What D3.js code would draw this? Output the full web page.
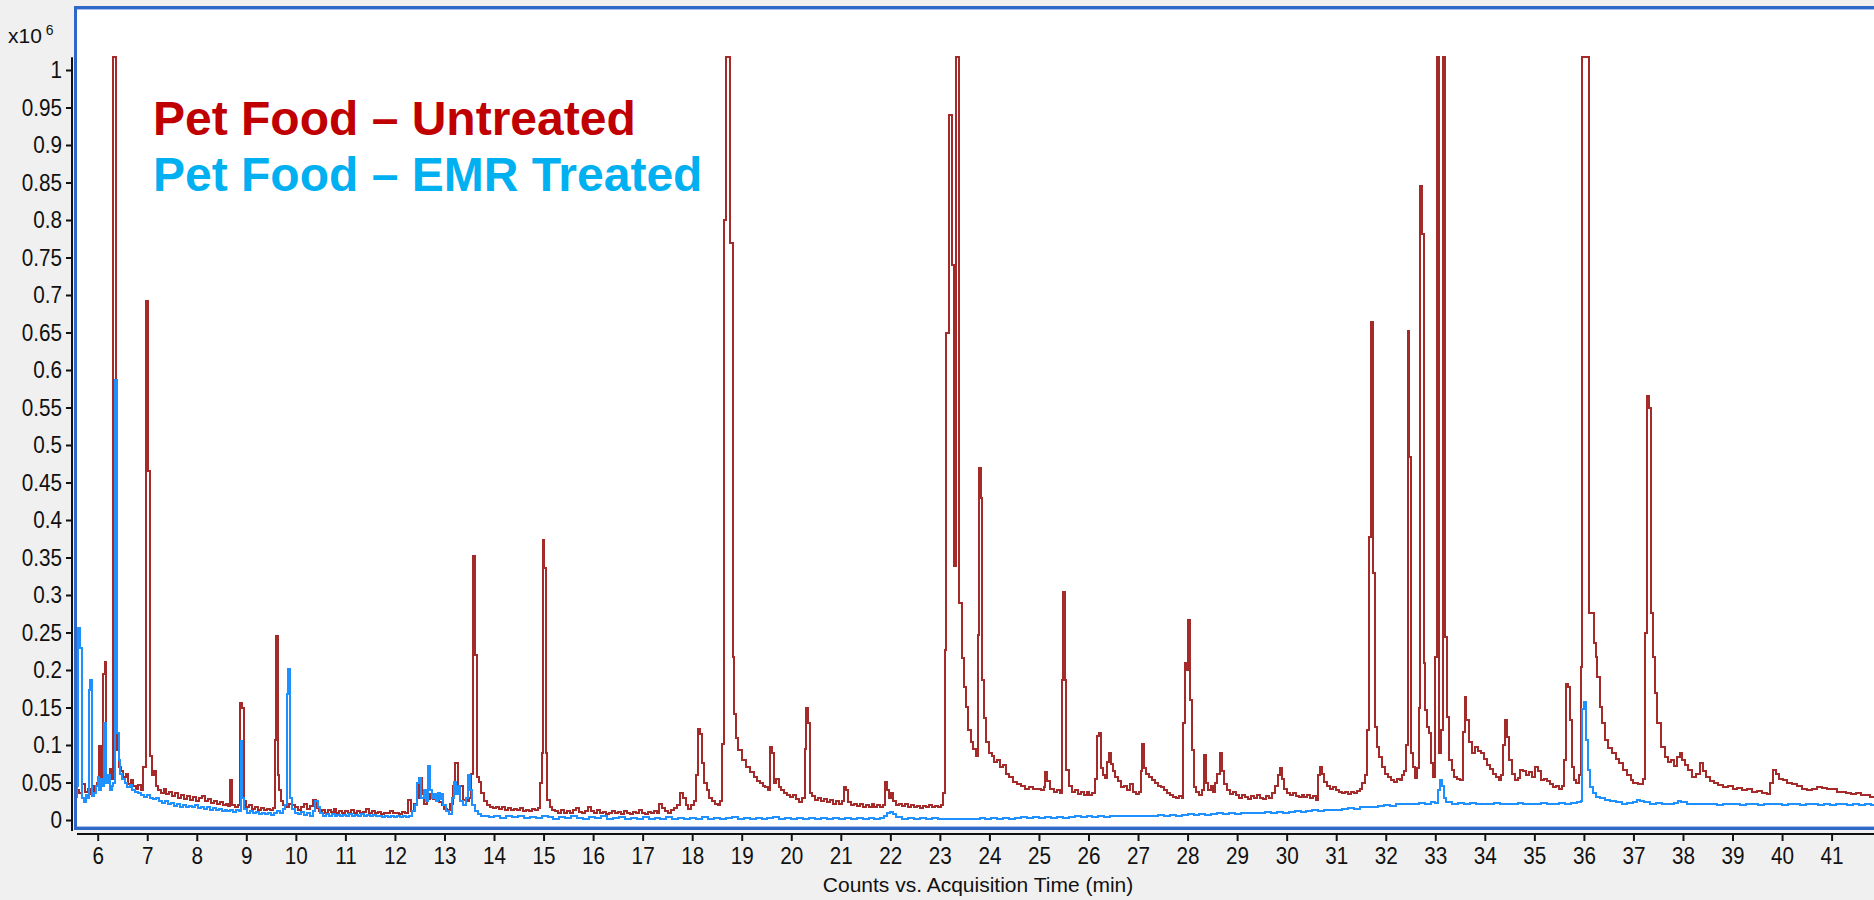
<!DOCTYPE html>
<html>
<head>
<meta charset="utf-8">
<script src="https://cdn.jsdelivr.net/npm/d3@7"></script>
<style>
  html, body { margin: 0; padding: 0; background: #f0f0f0; }
  svg { display: block; }
</style>
</head>
<body>
<svg id="chart" width="1874" height="900"></svg>
<script>
// Total ion chromatograms, counts in units of 10^6 vs. acquisition time (min)
const timeTicks = [6,7,8,9,10,11,12,13,14,15,16,17,18,19,20,21,22,23,24,25,26,27,28,29,30,31,32,33,34,35,36,37,38,39,40,41];
const countTicks = [0,0.05,0.1,0.15,0.2,0.25,0.3,0.35,0.4,0.45,0.5,0.55,0.6,0.65,0.7,0.75,0.8,0.85,0.9,0.95,1];
const seriesNames = ["Pet Food \u2013 Untreated", "Pet Food \u2013 EMR Treated"];
const axisTitle = "Counts vs. Acquisition Time (min)";
const scaleLabel = "x10";
const scaleExponent = "6";

// [time (min), counts (x10^6)]; 1.017 marks a detector-clipped apex
const untreated = [
[5.52,0.062],[5.56,0.040],[5.62,0.036],[5.68,0.048],[5.74,0.038],[5.80,0.042],[5.86,0.035],[5.92,0.045],[5.98,0.050],
[6.03,0.099],[6.06,0.055],[6.10,0.195],[6.14,0.211],[6.17,0.060],[6.21,0.050],[6.25,0.068],[6.29,0.055],[6.31,1.017],
[6.36,0.187],[6.39,0.093],[6.43,0.071],[6.47,0.065],[6.52,0.058],[6.57,0.062],[6.62,0.048],[6.67,0.053],[6.72,0.045],
[6.77,0.042],[6.82,0.047],[6.87,0.040],[6.92,0.071],[6.97,0.692],[7.02,0.466],[7.05,0.085],[7.09,0.060],[7.13,0.066],
[7.17,0.045],[7.22,0.040],[7.28,0.036],[7.33,0.042],[7.38,0.035],[7.44,0.038],[7.50,0.032],[7.56,0.036],[7.62,0.030],
[7.68,0.034],[7.74,0.028],[7.80,0.032],[7.86,0.027],[7.92,0.031],[7.98,0.026],[8.04,0.030],[8.10,0.032],[8.16,0.025],
[8.22,0.028],[8.28,0.023],[8.34,0.026],[8.40,0.022],[8.46,0.024],[8.52,0.020],[8.58,0.022],[8.64,0.019],[8.67,0.053],
[8.72,0.020],[8.78,0.018],[8.84,0.020],[8.88,0.156],[8.92,0.150],[8.96,0.025],[9.00,0.018],[9.06,0.020],[9.12,0.015],
[9.18,0.017],[9.24,0.014],[9.30,0.016],[9.36,0.013],[9.42,0.015],[9.48,0.014],[9.54,0.016],[9.57,0.107],[9.60,0.245],
[9.63,0.060],[9.66,0.040],[9.70,0.025],[9.75,0.020],[9.80,0.018],[9.86,0.022],[9.92,0.020],[9.98,0.017],[10.04,0.014],
[10.10,0.017],[10.16,0.021],[10.22,0.015],[10.28,0.019],[10.34,0.027],[10.40,0.016],[10.46,0.012],[10.52,0.014],
[10.58,0.010],[10.64,0.013],[10.70,0.011],[10.76,0.015],[10.82,0.010],[10.88,0.012],[10.94,0.009],[11.00,0.012],
[11.06,0.010],[11.12,0.014],[11.18,0.009],[11.24,0.012],[11.30,0.009],[11.36,0.011],[11.42,0.015],[11.48,0.010],
[11.54,0.012],[11.60,0.009],[11.66,0.011],[11.72,0.008],[11.78,0.010],[11.84,0.009],[11.90,0.012],[11.96,0.009],
[12.02,0.010],[12.08,0.008],[12.14,0.011],[12.20,0.009],[12.26,0.027],[12.32,0.012],[12.38,0.022],[12.44,0.030],
[12.48,0.056],[12.54,0.035],[12.58,0.022],[12.64,0.028],[12.70,0.035],[12.76,0.028],[12.82,0.030],[12.88,0.024],
[12.94,0.020],[13.00,0.015],[13.06,0.013],[13.12,0.022],[13.18,0.045],[13.22,0.076],[13.27,0.040],[13.32,0.045],
[13.38,0.027],[13.45,0.025],[13.50,0.030],[13.54,0.062],[13.58,0.352],[13.62,0.220],[13.66,0.058],[13.70,0.051],
[13.74,0.036],[13.80,0.025],[13.86,0.020],[13.92,0.018],[13.98,0.016],[14.04,0.018],[14.10,0.015],[14.16,0.017],
[14.22,0.014],[14.28,0.016],[14.34,0.013],[14.40,0.015],[14.46,0.013],[14.52,0.016],[14.58,0.012],[14.64,0.014],
[14.70,0.012],[14.76,0.015],[14.82,0.013],[14.88,0.016],[14.93,0.049],[14.96,0.089],[14.98,0.373],[15.01,0.336],
[15.04,0.090],[15.07,0.027],[15.12,0.018],[15.18,0.014],[15.24,0.012],[15.30,0.010],[15.36,0.013],[15.42,0.009],
[15.48,0.012],[15.54,0.010],[15.60,0.014],[15.66,0.016],[15.72,0.011],[15.78,0.009],[15.84,0.012],[15.90,0.017],
[15.96,0.012],[16.02,0.010],[16.08,0.013],[16.14,0.009],[16.20,0.011],[16.26,0.008],[16.32,0.010],[16.38,0.012],
[16.44,0.009],[16.50,0.011],[16.56,0.008],[16.62,0.012],[16.68,0.010],[16.74,0.008],[16.80,0.011],[16.86,0.009],
[16.92,0.013],[16.98,0.010],[17.04,0.008],[17.10,0.011],[17.16,0.009],[17.22,0.012],[17.28,0.010],[17.34,0.022],
[17.40,0.016],[17.46,0.012],[17.52,0.010],[17.58,0.013],[17.64,0.016],[17.70,0.020],[17.76,0.036],[17.82,0.030],
[17.87,0.020],[17.92,0.015],[17.98,0.020],[18.04,0.025],[18.08,0.060],[18.12,0.122],[18.16,0.115],[18.20,0.076],
[18.24,0.050],[18.29,0.040],[18.34,0.030],[18.40,0.025],[18.46,0.022],[18.52,0.020],[18.57,0.025],[18.60,0.102],
[18.64,0.800],[18.69,1.017],[18.76,0.770],[18.82,0.218],[18.85,0.142],[18.88,0.110],[18.92,0.093],[19.00,0.080],
[19.08,0.071],[19.16,0.064],[19.24,0.058],[19.30,0.052],[19.36,0.050],[19.42,0.046],[19.48,0.044],[19.54,0.040],
[19.58,0.098],[19.62,0.090],[19.66,0.050],[19.70,0.055],[19.75,0.044],[19.80,0.040],[19.86,0.036],[19.92,0.034],
[19.98,0.031],[20.04,0.033],[20.10,0.028],[20.16,0.024],[20.22,0.030],[20.27,0.095],[20.30,0.149],[20.33,0.129],
[20.37,0.036],[20.42,0.032],[20.48,0.027],[20.54,0.030],[20.60,0.025],[20.66,0.028],[20.72,0.024],[20.78,0.027],
[20.84,0.022],[20.90,0.025],[20.96,0.022],[21.02,0.026],[21.06,0.044],[21.10,0.040],[21.14,0.024],[21.20,0.020],
[21.26,0.022],[21.32,0.019],[21.38,0.021],[21.44,0.018],[21.50,0.020],[21.56,0.018],[21.62,0.021],[21.68,0.018],
[21.74,0.020],[21.80,0.017],[21.86,0.020],[21.90,0.051],[21.94,0.040],[21.98,0.030],[22.02,0.036],[22.06,0.025],
[22.12,0.020],[22.18,0.022],[22.24,0.019],[22.30,0.022],[22.36,0.018],[22.42,0.020],[22.48,0.017],[22.54,0.019],
[22.60,0.016],[22.66,0.019],[22.72,0.017],[22.78,0.020],[22.84,0.018],[22.90,0.019],[22.96,0.017],[23.02,0.020],
[23.06,0.036],[23.10,0.227],[23.13,0.650],[23.19,0.940],[23.24,0.740],[23.28,0.339],[23.32,1.017],[23.39,0.289],
[23.44,0.216],[23.48,0.178],[23.52,0.151],[23.57,0.120],[23.62,0.104],[23.67,0.095],[23.72,0.085],[23.76,0.247],
[23.79,0.470],[23.83,0.430],[23.86,0.187],[23.90,0.136],[23.94,0.104],[23.99,0.089],[24.05,0.085],[24.10,0.078],
[24.16,0.080],[24.22,0.071],[24.28,0.073],[24.34,0.062],[24.40,0.058],[24.48,0.051],[24.56,0.048],[24.64,0.045],
[24.72,0.042],[24.80,0.044],[24.88,0.041],[24.96,0.042],[25.04,0.040],[25.10,0.044],[25.13,0.064],[25.17,0.052],
[25.22,0.042],[25.30,0.038],[25.36,0.040],[25.42,0.036],[25.46,0.187],[25.49,0.304],[25.52,0.187],[25.55,0.067],
[25.60,0.045],[25.66,0.038],[25.72,0.040],[25.78,0.035],[25.84,0.038],[25.90,0.034],[25.96,0.037],[26.02,0.033],
[26.08,0.036],[26.13,0.055],[26.17,0.112],[26.21,0.116],[26.25,0.070],[26.29,0.060],[26.33,0.056],[26.37,0.078],
[26.41,0.089],[26.45,0.075],[26.49,0.065],[26.54,0.058],[26.60,0.052],[26.66,0.044],[26.72,0.046],[26.78,0.040],
[26.84,0.048],[26.90,0.038],[26.96,0.035],[27.02,0.037],[27.06,0.065],[27.09,0.102],[27.13,0.070],[27.17,0.062],
[27.22,0.058],[27.28,0.054],[27.34,0.050],[27.40,0.046],[27.46,0.044],[27.52,0.040],[27.58,0.036],[27.64,0.034],
[27.70,0.031],[27.76,0.030],[27.82,0.032],[27.88,0.030],[27.91,0.129],[27.94,0.209],[27.97,0.200],[28.01,0.267],
[28.04,0.160],[28.08,0.093],[28.12,0.044],[28.18,0.038],[28.24,0.034],[28.30,0.040],[28.34,0.087],[28.38,0.050],
[28.42,0.040],[28.48,0.045],[28.52,0.038],[28.56,0.050],[28.60,0.062],[28.65,0.089],[28.69,0.065],[28.74,0.048],
[28.80,0.040],[28.86,0.035],[28.92,0.038],[28.98,0.033],[29.04,0.030],[29.10,0.034],[29.16,0.031],[29.22,0.028],
[29.28,0.032],[29.34,0.029],[29.40,0.033],[29.46,0.030],[29.52,0.028],[29.58,0.032],[29.64,0.030],[29.70,0.036],
[29.76,0.045],[29.82,0.060],[29.86,0.069],[29.90,0.055],[29.95,0.042],[30.00,0.036],[30.06,0.033],[30.12,0.036],
[30.18,0.032],[30.24,0.031],[30.30,0.034],[30.36,0.031],[30.42,0.033],[30.48,0.030],[30.54,0.032],[30.60,0.027],
[30.63,0.060],[30.67,0.071],[30.71,0.062],[30.76,0.051],[30.82,0.046],[30.88,0.042],[30.94,0.044],[31.00,0.040],
[31.06,0.038],[31.12,0.036],[31.18,0.038],[31.24,0.035],[31.30,0.037],[31.36,0.036],[31.42,0.039],[31.48,0.042],
[31.53,0.049],[31.58,0.060],[31.63,0.120],[31.67,0.378],[31.71,0.664],[31.75,0.330],[31.78,0.124],[31.82,0.098],
[31.87,0.084],[31.92,0.071],[31.98,0.062],[32.04,0.058],[32.10,0.053],[32.16,0.051],[32.22,0.055],[32.28,0.053],
[32.32,0.060],[32.36,0.065],[32.40,0.100],[32.44,0.652],[32.47,0.484],[32.51,0.090],[32.55,0.071],[32.60,0.056],
[32.64,0.070],[32.67,0.150],[32.70,0.846],[32.73,0.781],[32.77,0.210],[32.80,0.147],[32.84,0.124],[32.88,0.116],
[32.92,0.076],[32.96,0.058],[33.00,0.217],[33.03,1.017],[33.08,0.090],[33.12,0.120],[33.15,1.017],[33.20,0.244],
[33.24,0.137],[33.28,0.080],[33.33,0.067],[33.38,0.058],[33.44,0.055],[33.50,0.053],[33.55,0.118],[33.59,0.164],
[33.63,0.133],[33.68,0.104],[33.74,0.089],[33.80,0.098],[33.86,0.092],[33.92,0.089],[33.98,0.082],[34.04,0.073],
[34.10,0.068],[34.16,0.062],[34.22,0.058],[34.28,0.053],[34.33,0.060],[34.37,0.100],[34.41,0.133],[34.45,0.111],
[34.49,0.080],[34.54,0.062],[34.60,0.053],[34.66,0.056],[34.72,0.067],[34.78,0.065],[34.84,0.060],[34.90,0.064],
[34.96,0.058],[35.02,0.071],[35.08,0.066],[35.14,0.053],[35.20,0.055],[35.26,0.052],[35.32,0.048],[35.38,0.044],
[35.44,0.046],[35.50,0.042],[35.56,0.045],[35.60,0.080],[35.64,0.182],[35.68,0.178],[35.72,0.133],[35.76,0.071],
[35.80,0.053],[35.85,0.050],[35.90,0.060],[35.94,0.204],[35.97,1.017],[36.10,0.276],
[36.20,0.236],[36.24,0.218],[36.27,0.191],[36.32,0.151],[36.36,0.129],[36.42,0.107],[36.48,0.096],[36.56,0.089],
[36.64,0.082],[36.70,0.076],[36.78,0.067],[36.86,0.060],[36.95,0.053],[37.00,0.050],[37.10,0.048],[37.20,0.055],
[37.24,0.250],[37.27,0.565],[37.31,0.550],[37.35,0.276],[37.39,0.218],[37.43,0.169],[37.48,0.129],[37.55,0.098],
[37.64,0.084],[37.70,0.078],[37.76,0.080],[37.82,0.072],[37.88,0.084],[37.93,0.089],[37.98,0.080],[38.04,0.074],
[38.10,0.067],[38.18,0.058],[38.26,0.062],[38.34,0.076],[38.40,0.065],[38.46,0.058],[38.54,0.052],[38.62,0.049],
[38.70,0.047],[38.80,0.044],[38.90,0.045],[39.00,0.042],[39.10,0.043],[39.20,0.040],[39.30,0.041],[39.40,0.038],
[39.50,0.039],[39.60,0.036],[39.70,0.035],[39.76,0.050],[39.82,0.067],[39.88,0.062],[39.94,0.055],[40.02,0.053],
[40.10,0.050],[40.20,0.048],[40.30,0.045],[40.40,0.042],[40.50,0.040],[40.60,0.041],[40.70,0.044],[40.80,0.043],
[40.90,0.042],[41.00,0.041],[41.10,0.038],[41.20,0.037],[41.30,0.036],[41.40,0.035],[41.50,0.036],[41.60,0.034],
[41.70,0.033],[41.78,0.031],[41.86,0.030]
];

const emrTreated = [
[5.52,0.031],[5.58,0.045],[5.61,0.256],[5.65,0.230],[5.68,0.030],[5.72,0.024],[5.76,0.033],[5.80,0.030],[5.82,0.173],
[5.85,0.187],[5.89,0.032],[5.93,0.036],[5.96,0.045],[6.00,0.057],[6.03,0.040],[6.06,0.055],[6.09,0.045],[6.13,0.129],
[6.17,0.050],[6.20,0.060],[6.24,0.040],[6.28,0.045],[6.31,0.050],[6.34,0.587],[6.39,0.116],[6.42,0.080],[6.46,0.062],
[6.50,0.055],[6.55,0.050],[6.60,0.044],[6.65,0.047],[6.70,0.040],[6.76,0.038],[6.82,0.036],[6.88,0.033],[6.94,0.031],
[7.00,0.033],[7.06,0.030],[7.12,0.028],[7.18,0.030],[7.24,0.025],[7.30,0.023],[7.36,0.025],[7.42,0.021],[7.48,0.023],
[7.54,0.019],[7.60,0.021],[7.66,0.018],[7.72,0.020],[7.78,0.017],[7.84,0.019],[7.90,0.017],[7.96,0.020],[8.02,0.016],
[8.08,0.018],[8.14,0.015],[8.20,0.017],[8.26,0.014],[8.32,0.016],[8.38,0.013],[8.44,0.015],[8.50,0.012],[8.56,0.014],
[8.62,0.012],[8.68,0.014],[8.74,0.011],[8.80,0.013],[8.86,0.012],[8.89,0.105],[8.92,0.030],[8.96,0.015],[9.02,0.010],
[9.08,0.012],[9.14,0.009],[9.20,0.011],[9.26,0.008],[9.32,0.010],[9.38,0.008],[9.44,0.009],[9.50,0.007],[9.56,0.010],
[9.62,0.012],[9.68,0.009],[9.74,0.015],[9.78,0.020],[9.82,0.168],[9.85,0.202],[9.88,0.030],[9.92,0.015],[9.98,0.010],
[10.04,0.008],[10.10,0.011],[10.16,0.007],[10.22,0.010],[10.28,0.006],[10.34,0.012],[10.38,0.025],[10.44,0.018],
[10.48,0.009],[10.54,0.006],[10.60,0.008],[10.66,0.006],[10.72,0.008],[10.78,0.005],[10.84,0.007],[10.90,0.005],
[10.96,0.007],[11.02,0.006],[11.08,0.008],[11.14,0.005],[11.20,0.007],[11.26,0.005],[11.32,0.008],[11.38,0.006],
[11.44,0.007],[11.50,0.005],[11.56,0.007],[11.62,0.005],[11.68,0.006],[11.74,0.004],[11.80,0.006],[11.86,0.004],
[11.92,0.006],[11.98,0.004],[12.04,0.005],[12.10,0.004],[12.16,0.006],[12.22,0.004],[12.28,0.006],[12.34,0.012],
[12.40,0.020],[12.45,0.050],[12.49,0.056],[12.53,0.030],[12.58,0.040],[12.62,0.025],[12.66,0.072],[12.70,0.040],
[12.74,0.030],[12.78,0.035],[12.82,0.025],[12.86,0.036],[12.90,0.028],[12.94,0.035],[12.98,0.020],[13.04,0.012],
[13.10,0.008],[13.16,0.030],[13.20,0.051],[13.24,0.035],[13.28,0.045],[13.32,0.025],[13.38,0.020],[13.44,0.030],
[13.48,0.060],[13.52,0.040],[13.56,0.020],[13.62,0.012],[13.68,0.008],[13.74,0.006],[13.80,0.005],[13.90,0.004],
[14.00,0.005],[14.12,0.003],[14.24,0.005],[14.36,0.004],[14.48,0.006],[14.60,0.003],[14.72,0.004],[14.84,0.003],
[14.96,0.005],[15.08,0.004],[15.20,0.002],[15.32,0.004],[15.44,0.003],[15.56,0.005],[15.68,0.003],[15.80,0.002],
[15.92,0.004],[16.04,0.003],[16.16,0.005],[16.28,0.002],[16.40,0.003],[16.52,0.004],[16.64,0.002],[16.76,0.003],
[16.88,0.002],[17.00,0.004],[17.12,0.002],[17.24,0.003],[17.36,0.002],[17.48,0.004],[17.60,0.002],[17.72,0.003],
[17.84,0.002],[17.96,0.003],[18.08,0.002],[18.20,0.004],[18.32,0.002],[18.44,0.003],[18.56,0.002],[18.68,0.003],
[18.80,0.004],[18.92,0.002],[19.04,0.003],[19.16,0.002],[19.28,0.003],[19.40,0.002],[19.52,0.003],[19.64,0.004],
[19.76,0.002],[19.88,0.003],[20.00,0.002],[20.12,0.003],[20.24,0.002],[20.36,0.003],[20.48,0.002],[20.60,0.003],
[20.72,0.002],[20.84,0.003],[20.96,0.002],[21.08,0.003],[21.20,0.002],[21.32,0.003],[21.44,0.002],[21.56,0.003],
[21.68,0.002],[21.80,0.003],[21.88,0.006],[21.94,0.009],[22.00,0.011],[22.06,0.008],[22.12,0.004],[22.24,0.002],
[22.36,0.003],[22.48,0.002],[22.60,0.003],[22.72,0.002],[22.84,0.003],[22.96,0.002],[23.08,0.001],[23.20,0.002],
[23.32,0.001],[23.44,0.002],[23.56,0.001],[23.68,0.002],[23.80,0.003],[23.92,0.002],[24.04,0.003],[24.16,0.002],
[24.28,0.003],[24.40,0.002],[24.52,0.003],[24.64,0.004],[24.76,0.003],[24.88,0.004],[25.00,0.003],[25.12,0.004],
[25.24,0.003],[25.36,0.004],[25.48,0.003],[25.60,0.004],[25.72,0.005],[25.84,0.004],[25.96,0.005],[26.08,0.004],
[26.20,0.005],[26.32,0.004],[26.44,0.005],[26.56,0.006],[26.68,0.005],[26.80,0.006],[26.92,0.005],[27.04,0.006],
[27.16,0.005],[27.28,0.006],[27.40,0.007],[27.52,0.006],[27.64,0.007],[27.76,0.006],[27.88,0.007],[28.00,0.008],
[28.12,0.007],[28.24,0.008],[28.36,0.007],[28.48,0.008],[28.60,0.009],[28.72,0.008],[28.84,0.009],[28.96,0.008],
[29.08,0.009],[29.20,0.010],[29.32,0.009],[29.44,0.010],[29.56,0.011],[29.68,0.010],[29.80,0.011],[29.92,0.010],
[30.04,0.011],[30.16,0.012],[30.28,0.011],[30.40,0.012],[30.52,0.013],[30.64,0.012],[30.76,0.013],[30.88,0.014],
[31.00,0.013],[31.12,0.015],[31.24,0.016],[31.36,0.015],[31.48,0.017],[31.60,0.018],[31.72,0.017],[31.84,0.019],
[31.96,0.020],[32.08,0.019],[32.20,0.021],[32.32,0.022],[32.44,0.021],[32.56,0.022],[32.68,0.023],[32.80,0.022],
[32.92,0.024],[33.00,0.023],[33.05,0.040],[33.09,0.053],[33.13,0.046],[33.17,0.030],[33.22,0.024],[33.34,0.022],
[33.46,0.023],[33.58,0.021],[33.70,0.023],[33.82,0.022],[33.94,0.021],[34.06,0.022],[34.18,0.023],[34.30,0.021],
[34.42,0.022],[34.54,0.021],[34.66,0.023],[34.78,0.022],[34.90,0.021],[35.02,0.022],[35.14,0.023],[35.26,0.022],
[35.38,0.021],[35.50,0.023],[35.62,0.022],[35.74,0.023],[35.86,0.024],[35.94,0.025],[35.97,0.148],[36.01,0.157],
[36.05,0.107],[36.08,0.067],[36.12,0.044],[36.18,0.036],[36.24,0.031],[36.32,0.029],[36.42,0.027],[36.52,0.025],
[36.64,0.024],[36.76,0.022],[36.88,0.023],[37.00,0.024],[37.08,0.027],[37.14,0.026],[37.22,0.024],[37.34,0.022],
[37.46,0.023],[37.58,0.021],[37.70,0.022],[37.82,0.023],[37.90,0.026],[37.96,0.024],[38.08,0.022],[38.20,0.021],
[38.32,0.022],[38.44,0.021],[38.56,0.022],[38.68,0.020],[38.80,0.021],[38.92,0.022],[39.04,0.021],[39.16,0.020],
[39.28,0.022],[39.40,0.021],[39.52,0.020],[39.64,0.021],[39.76,0.022],[39.88,0.021],[40.00,0.020],[40.12,0.022],
[40.24,0.021],[40.36,0.020],[40.48,0.021],[40.60,0.022],[40.72,0.020],[40.84,0.021],[40.96,0.020],[41.08,0.022],
[41.20,0.021],[41.32,0.020],[41.44,0.021],[41.56,0.020],[41.68,0.021],[41.80,0.020],[41.86,0.020]
];

const seriesColors = ["#a52a2a", "#1e90ff"];
const legendColors = ["#c00000", "#00b0f0"];

const svg = d3.select("#chart");
const font = "'Liberation Sans', Arial, sans-serif";
const narrow = 0.9;

// Scales: integer-minute ticks and 0.05 x10^6 count steps
const x = d3.scaleLinear().domain([6, 41]).range([97.7, 1831.6]);
const y = d3.scaleLinear().domain([0, 1]).range([820, 70]);

const frame = { left: 74, top: 6, right: 1880, bottom: 830 };

// Plot panel
svg.append("rect")
  .attr("x", frame.left).attr("y", frame.top)
  .attr("width", frame.right - frame.left).attr("height", frame.bottom - frame.top)
  .attr("fill", "#ffffff");

svg.append("defs").append("clipPath").attr("id", "plotClip")
  .append("rect")
  .attr("x", frame.left + 3).attr("y", frame.top + 3)
  .attr("width", frame.right - frame.left - 6).attr("height", frame.bottom - frame.top - 6);

const traces = svg.append("g").attr("clip-path", "url(#plotClip)");
const line = d3.line()
  .x(d => x(d[0]))
  .y(d => y(d[1]))
  .curve(d3.curveStepAfter);

[untreated, emrTreated].forEach((data, i) => {
  traces.append("path")
    .datum(data)
    .attr("d", line)
    .attr("fill", "none")
    .attr("stroke", seriesColors[i])
    .attr("stroke-width", 2)
    .attr("stroke-linejoin", "miter")
    .attr("shape-rendering", "crispEdges");
});

// Panel border: dark blue outer band with a light inner line
svg.append("rect")
  .attr("x", frame.left + 2.5).attr("y", frame.top + 3.5)
  .attr("width", frame.right - frame.left).attr("height", frame.bottom - frame.top - 7)
  .attr("fill", "none").attr("stroke", "#a8bfe9").attr("stroke-width", 1);
svg.append("rect")
  .attr("x", frame.left + 1.5).attr("y", frame.top + 1.5)
  .attr("width", frame.right - frame.left).attr("height", frame.bottom - frame.top - 3)
  .attr("fill", "none").attr("stroke", "#3068c8").attr("stroke-width", 3);

// Y axis
const yAxisG = svg.append("g").attr("transform", "translate(72,0)")
  .call(d3.axisLeft(y).tickValues(countTicks).tickSize(6).tickPadding(0)
    .tickFormat(d => String(+d.toFixed(2))));
yAxisG.select(".domain").remove();
yAxisG.selectAll(".tick line").attr("stroke", "#111").attr("stroke-width", 2);
yAxisG.selectAll(".tick text")
  .attr("font-family", font).attr("font-size", 23).attr("fill", "#111")
  .attr("text-anchor", "end")
  .attr("x", -10 / narrow).attr("dy", "0.33em")
  .attr("transform", `scale(${narrow},1)`);
svg.append("line")
  .attr("x1", 72).attr("x2", 72)
  .attr("y1", y(1.017)).attr("y2", 831)
  .attr("stroke", "#111").attr("stroke-width", 2);

// X axis
const xAxisG = svg.append("g").attr("transform", "translate(0,834)")
  .call(d3.axisBottom(x).tickValues(timeTicks).tickSize(7).tickPadding(0)
    .tickFormat(d => String(d)));
xAxisG.select(".domain").remove();
xAxisG.selectAll(".tick line").attr("stroke", "#111").attr("stroke-width", 2);
xAxisG.selectAll(".tick text")
  .attr("font-family", font).attr("font-size", 23).attr("fill", "#111")
  .attr("y", 30).attr("dy", 0)
  .attr("transform", `scale(${narrow},1)`);
svg.append("line")
  .attr("x1", 77).attr("x2", 1874)
  .attr("y1", 834).attr("y2", 834)
  .attr("stroke", "#111").attr("stroke-width", 2);

// Axis title
svg.append("text")
  .attr("x", 978).attr("y", 892)
  .attr("text-anchor", "middle")
  .attr("font-family", font).attr("font-size", 21).attr("fill", "#111")
  .text(axisTitle);

// Count multiplier
const mult = svg.append("text")
  .attr("x", 8).attr("y", 43)
  .attr("font-family", font).attr("font-size", 21).attr("fill", "#111");
mult.append("tspan").text(scaleLabel);
mult.append("tspan").attr("dx", 4).attr("dy", -8).attr("font-size", 14).text(scaleExponent);

// Series legend
seriesNames.forEach((name, i) => {
  svg.append("text")
    .attr("x", 153).attr("y", 135 + i * 56)
    .attr("font-family", font).attr("font-size", 48).attr("font-weight", "bold")
    .attr("fill", legendColors[i])
    .text(name);
});
</script>
